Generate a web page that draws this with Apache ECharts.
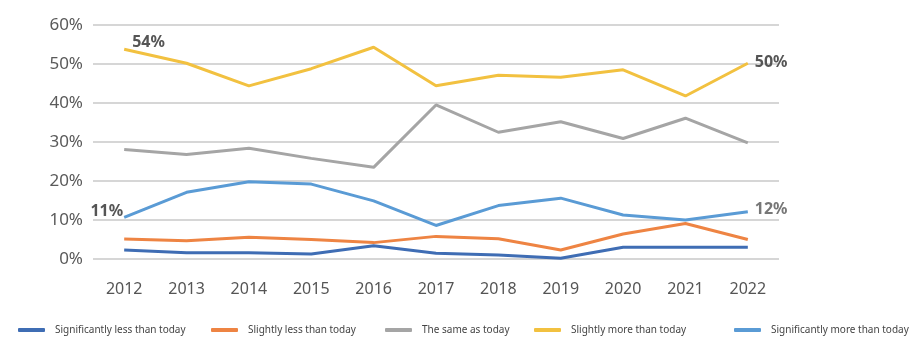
<!DOCTYPE html>
<html>
<head>
<meta charset="utf-8">
<script src="https://cdn.jsdelivr.net/npm/echarts@6/dist/echarts.min.js"></script>
<style>
  html, body { margin: 0; padding: 0; background: #fff; }
  #chart { width: 913px; height: 353px; }
</style>
</head>
<body>
<div id="chart"></div>
<script>
const years = ['2012', '2013', '2014', '2015', '2016', '2017', '2018', '2019', '2020', '2021', '2022'];
const sigLess = [2.3, 1.6, 1.6, 1.3, 3.4, 1.5, 1.0, 0.2, 3.0, 3.0, 3.0];
const slightLess = [5.1, 4.7, 5.6, 5.0, 4.2, 5.8, 5.2, 2.3, 6.4, 9.1, 5.0];
const same = [28.1, 26.8, 28.4, 25.8, 23.5, 39.5, 32.5, 35.2, 30.9, 36.1, 29.8];
const slightMore = [53.8, 50.2, 44.4, 48.8, 54.3, 44.4, 47.1, 46.6, 48.5, 41.8, 50.2];
const sigMore = [10.7, 17.1, 19.8, 19.2, 14.9, 8.6, 13.7, 15.6, 11.3, 10.0, 12.1];

const names = [
  'Significantly less than today',
  'Slightly less than today',
  'The same as today',
  'Slightly more than today',
  'Significantly more than today'
];
const colors = ['#3f6db4', '#ee8443', '#a5a5a5', '#f2c140', '#5a9bd5'];
const legendLeft = [13, 206, 380, 529, 729];

const chart = echarts.init(document.getElementById('chart'));

// put a label on the first / last point only
function withLabels(values, first, last) {
  return values.map((v, i) => {
    let item = { value: v };
    if (i === 0 && first) item.label = Object.assign({ show: true }, first);
    if (i === values.length - 1 && last) item.label = Object.assign({ show: true }, last);
    return item;
  });
}

const labelBase = {
  fontFamily: 'Noto Sans',
  fontSize: 16,
  fontWeight: 'bold',
  color: '#555',
  formatter: p => Math.round(p.value) + '%'
};

const seriesData = [
  withLabels(sigLess),
  withLabels(slightLess),
  withLabels(same),
  withLabels(slightMore,
    Object.assign({}, labelBase, { position: 'right', offset: [3, -7] }),
    Object.assign({}, labelBase, { position: 'right', offset: [2, -1] })),
  withLabels(sigMore,
    Object.assign({}, labelBase, { position: 'left', offset: [4, -6] }),
    Object.assign({}, labelBase, { position: 'right', offset: [2, -2], color: '#777' }))
];

let option = {
  animation: false,
  grid: { left: 93, right: 134, top: 25, bottom: 94 },
  legend: names.map((n, i) => ({
    data: [n],
    left: legendLeft[i],
    top: 320,
    icon: 'roundRect',
    itemWidth: 27,
    itemHeight: 4,
    textStyle: { fontFamily: 'Noto Sans', fontSize: 10, color: '#444', padding: [0, 0, 0, 5] }
  })),
  xAxis: {
    type: 'category',
    data: years,
    boundaryGap: true,
    axisLine: { show: false },
    axisTick: { show: false },
    axisLabel: { margin: 22, fontFamily: 'Noto Sans', fontSize: 16, color: '#555' }
  },
  yAxis: {
    type: 'value',
    min: 0,
    max: 60,
    interval: 10,
    axisLabel: { margin: 10, formatter: '{value}%', fontFamily: 'Noto Sans', fontSize: 17, color: '#5a5a5a' },
    splitLine: { lineStyle: { color: '#c9c9c9', width: 1.5 } }
  },
  series: names.map((n, i) => ({
    name: n,
    type: 'line',
    data: seriesData[i],
    symbol: 'circle',
    symbolSize: 0,
    showSymbol: true,
    color: colors[i],
    lineStyle: { width: 3, color: colors[i] },
    z: i === 4 ? 3 : 2
  }))
};

chart.setOption(option);
</script>
</body>
</html>
